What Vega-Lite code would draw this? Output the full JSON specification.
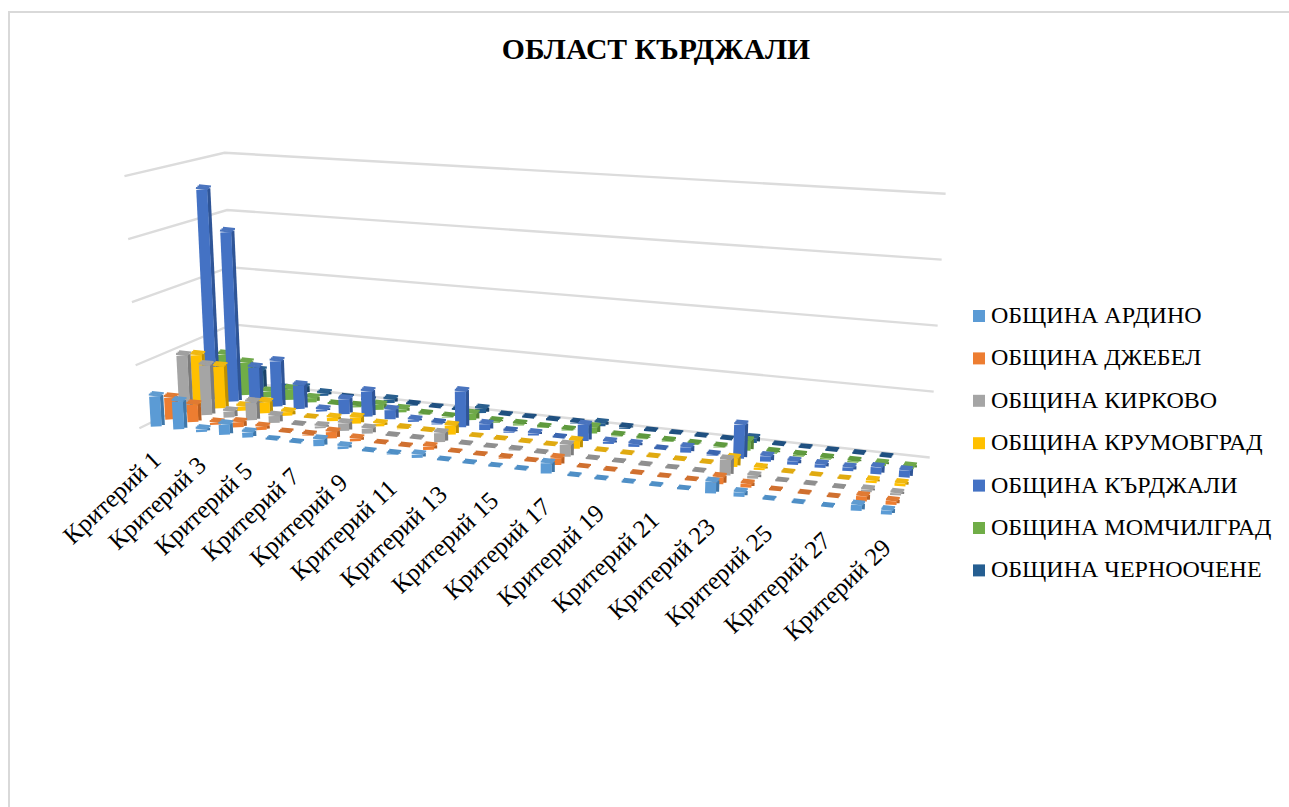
{"$schema":"https://vega.github.io/schema/vega-lite/v6.json","width":1289,"height":807,"autosize":"none","padding":{"left":9,"top":12,"right":-9,"bottom":-12},"background":"white","view":{"stroke":"#D9D9D9","strokeWidth":2,"fill":"white"},"title":{"text":"ОБЛАСТ КЪРДЖАЛИ","font":"Liberation Serif","fontSize":29.7,"fontWeight":"bold","color":"#000000","anchor":"middle","frame":"group","dx":2.5,"offset":-48,"dy":29,"baseline":"alphabetic"},"datasets":{"grid":[{"level":0,"crit":0.5,"pos":0.5,"value":0},{"level":0,"crit":0.5,"pos":7.5,"value":0},{"level":0,"crit":29.5,"pos":7.5,"value":0},{"level":1,"crit":0.5,"pos":0.5,"value":10},{"level":1,"crit":0.5,"pos":7.5,"value":10},{"level":1,"crit":29.5,"pos":7.5,"value":10},{"level":2,"crit":0.5,"pos":0.5,"value":20},{"level":2,"crit":0.5,"pos":7.5,"value":20},{"level":2,"crit":29.5,"pos":7.5,"value":20},{"level":3,"crit":0.5,"pos":0.5,"value":30},{"level":3,"crit":0.5,"pos":7.5,"value":30},{"level":3,"crit":29.5,"pos":7.5,"value":30},{"level":4,"crit":0.5,"pos":0.5,"value":40},{"level":4,"crit":0.5,"pos":7.5,"value":40},{"level":4,"crit":29.5,"pos":7.5,"value":40}],"labels":[{"crit":1,"label":"Критерий 1"},{"crit":3,"label":"Критерий 3"},{"crit":5,"label":"Критерий 5"},{"crit":7,"label":"Критерий 7"},{"crit":9,"label":"Критерий 9"},{"crit":11,"label":"Критерий 11"},{"crit":13,"label":"Критерий 13"},{"crit":15,"label":"Критерий 15"},{"crit":17,"label":"Критерий 17"},{"crit":19,"label":"Критерий 19"},{"crit":21,"label":"Критерий 21"},{"crit":23,"label":"Критерий 23"},{"crit":25,"label":"Критерий 25"},{"crit":27,"label":"Критерий 27"},{"crit":29,"label":"Критерий 29"}],"bars":[
{"crit":1,"series":"ОБЩИНА ЧЕРНООЧЕНЕ","value":3},{"crit":2,"series":"ОБЩИНА ЧЕРНООЧЕНЕ","value":3.1},{"crit":3,"series":"ОБЩИНА ЧЕРНООЧЕНЕ","value":0.5},{"crit":4,"series":"ОБЩИНА ЧЕРНООЧЕНЕ","value":1},{"crit":5,"series":"ОБЩИНА ЧЕРНООЧЕНЕ","value":0.4},{"crit":6,"series":"ОБЩИНА ЧЕРНООЧЕНЕ","value":0},{"crit":7,"series":"ОБЩИНА ЧЕРНООЧЕНЕ","value":0},{"crit":8,"series":"ОБЩИНА ЧЕРНООЧЕНЕ","value":0.6},{"crit":9,"series":"ОБЩИНА ЧЕРНООЧЕНЕ","value":0.1},{"crit":10,"series":"ОБЩИНА ЧЕРНООЧЕНЕ","value":0},{"crit":11,"series":"ОБЩИНА ЧЕРНООЧЕНЕ","value":0},{"crit":12,"series":"ОБЩИНА ЧЕРНООЧЕНЕ","value":0.7},{"crit":13,"series":"ОБЩИНА ЧЕРНООЧЕНЕ","value":0},{"crit":14,"series":"ОБЩИНА ЧЕРНООЧЕНЕ","value":0},{"crit":15,"series":"ОБЩИНА ЧЕРНООЧЕНЕ","value":0},{"crit":16,"series":"ОБЩИНА ЧЕРНООЧЕНЕ","value":0.1},{"crit":17,"series":"ОБЩИНА ЧЕРНООЧЕНЕ","value":0.5},{"crit":18,"series":"ОБЩИНА ЧЕРНООЧЕНЕ","value":0.2},{"crit":19,"series":"ОБЩИНА ЧЕРНООЧЕНЕ","value":0},{"crit":20,"series":"ОБЩИНА ЧЕРНООЧЕНЕ","value":0},{"crit":21,"series":"ОБЩИНА ЧЕРНООЧЕНЕ","value":0},{"crit":22,"series":"ОБЩИНА ЧЕРНООЧЕНЕ","value":0},{"crit":23,"series":"ОБЩИНА ЧЕРНООЧЕНЕ","value":0.7},{"crit":24,"series":"ОБЩИНА ЧЕРНООЧЕНЕ","value":0},{"crit":25,"series":"ОБЩИНА ЧЕРНООЧЕНЕ","value":0},{"crit":26,"series":"ОБЩИНА ЧЕРНООЧЕНЕ","value":0},{"crit":27,"series":"ОБЩИНА ЧЕРНООЧЕНЕ","value":0},{"crit":28,"series":"ОБЩИНА ЧЕРНООЧЕНЕ","value":0},
{"crit":1,"series":"ОБЩИНА МОМЧИЛГРАД","value":6.5},{"crit":2,"series":"ОБЩИНА МОМЧИЛГРАД","value":5.5},{"crit":3,"series":"ОБЩИНА МОМЧИЛГРАД","value":1},{"crit":4,"series":"ОБЩИНА МОМЧИЛГРАД","value":1.8},{"crit":5,"series":"ОБЩИНА МОМЧИЛГРАД","value":0.7},{"crit":6,"series":"ОБЩИНА МОМЧИЛГРАД","value":0},{"crit":7,"series":"ОБЩИНА МОМЧИЛГРАД","value":0.2},{"crit":8,"series":"ОБЩИНА МОМЧИЛГРАД","value":0.8},{"crit":9,"series":"ОБЩИНА МОМЧИЛГРАД","value":0.5},{"crit":10,"series":"ОБЩИНА МОМЧИЛГРАД","value":0.1},{"crit":11,"series":"ОБЩИНА МОМЧИЛГРАД","value":0.1},{"crit":12,"series":"ОБЩИНА МОМЧИЛГРАД","value":1},{"crit":13,"series":"ОБЩИНА МОМЧИЛГРАД","value":0.2},{"crit":14,"series":"ОБЩИНА МОМЧИЛГРАД","value":0.2},{"crit":15,"series":"ОБЩИНА МОМЧИЛГРАД","value":0.1},{"crit":16,"series":"ОБЩИНА МОМЧИЛГРАД","value":0.1},{"crit":17,"series":"ОБЩИНА МОМЧИЛГРАД","value":1},{"crit":18,"series":"ОБЩИНА МОМЧИЛГРАД","value":0.1},{"crit":19,"series":"ОБЩИНА МОМЧИЛГРАД","value":0.1},{"crit":20,"series":"ОБЩИНА МОМЧИЛГРАД","value":0.1},{"crit":21,"series":"ОБЩИНА МОМЧИЛГРАД","value":0.1},{"crit":22,"series":"ОБЩИНА МОМЧИЛГРАД","value":0.1},{"crit":23,"series":"ОБЩИНА МОМЧИЛГРАД","value":1.5},{"crit":24,"series":"ОБЩИНА МОМЧИЛГРАД","value":0.2},{"crit":25,"series":"ОБЩИНА МОМЧИЛГРАД","value":0.2},{"crit":26,"series":"ОБЩИНА МОМЧИЛГРАД","value":0.2},{"crit":27,"series":"ОБЩИНА МОМЧИЛГРАД","value":0.2},{"crit":28,"series":"ОБЩИНА МОМЧИЛГРАД","value":0.3},{"crit":29,"series":"ОБЩИНА МОМЧИЛГРАД","value":0.3},
{"crit":1,"series":"ОБЩИНА КЪРДЖАЛИ","value":35.3},{"crit":2,"series":"ОБЩИНА КЪРДЖАЛИ","value":28.4},{"crit":3,"series":"ОБЩИНА КЪРДЖАЛИ","value":6.1},{"crit":4,"series":"ОБЩИНА КЪРДЖАЛИ","value":7.5},{"crit":5,"series":"ОБЩИНА КЪРДЖАЛИ","value":3.9},{"crit":6,"series":"ОБЩИНА КЪРДЖАЛИ","value":0.3},{"crit":7,"series":"ОБЩИНА КЪРДЖАЛИ","value":2.4},{"crit":8,"series":"ОБЩИНА КЪРДЖАЛИ","value":4.1},{"crit":9,"series":"ОБЩИНА КЪРДЖАЛИ","value":1.5},{"crit":10,"series":"ОБЩИНА КЪРДЖАЛИ","value":0.3},{"crit":11,"series":"ОБЩИНА КЪРДЖАЛИ","value":0.2},{"crit":12,"series":"ОБЩИНА КЪРДЖАЛИ","value":5.7},{"crit":13,"series":"ОБЩИНА КЪРДЖАЛИ","value":0.9},{"crit":14,"series":"ОБЩИНА КЪРДЖАЛИ","value":0.2},{"crit":15,"series":"ОБЩИНА КЪРДЖАЛИ","value":0.3},{"crit":16,"series":"ОБЩИНА КЪРДЖАЛИ","value":0},{"crit":17,"series":"ОБЩИНА КЪРДЖАЛИ","value":2.5},{"crit":18,"series":"ОБЩИНА КЪРДЖАЛИ","value":0.3},{"crit":19,"series":"ОБЩИНА КЪРДЖАЛИ","value":0.4},{"crit":20,"series":"ОБЩИНА КЪРДЖАЛИ","value":0},{"crit":21,"series":"ОБЩИНА КЪРДЖАЛИ","value":0.8},{"crit":22,"series":"ОБЩИНА КЪРДЖАЛИ","value":0.1},{"crit":23,"series":"ОБЩИНА КЪРДЖАЛИ","value":5.1},{"crit":24,"series":"ОБЩИНА КЪРДЖАЛИ","value":0.8},{"crit":25,"series":"ОБЩИНА КЪРДЖАЛИ","value":0.5},{"crit":26,"series":"ОБЩИНА КЪРДЖАЛИ","value":0.5},{"crit":27,"series":"ОБЩИНА КЪРДЖАЛИ","value":0.5},{"crit":28,"series":"ОБЩИНА КЪРДЖАЛИ","value":1},{"crit":29,"series":"ОБЩИНА КЪРДЖАЛИ","value":1},
{"crit":1,"series":"ОБЩИНА КРУМОВГРАД","value":8.4},{"crit":2,"series":"ОБЩИНА КРУМОВГРАД","value":6.9},{"crit":3,"series":"ОБЩИНА КРУМОВГРАД","value":0.7},{"crit":4,"series":"ОБЩИНА КРУМОВГРАД","value":1.8},{"crit":5,"series":"ОБЩИНА КРУМОВГРАД","value":0.6},{"crit":6,"series":"ОБЩИНА КРУМОВГРАД","value":0},{"crit":7,"series":"ОБЩИНА КРУМОВГРАД","value":0.5},{"crit":8,"series":"ОБЩИНА КРУМОВГРАД","value":1},{"crit":9,"series":"ОБЩИНА КРУМОВГРАД","value":0.4},{"crit":10,"series":"ОБЩИНА КРУМОВГРАД","value":0.1},{"crit":11,"series":"ОБЩИНА КРУМОВГРАД","value":0},{"crit":12,"series":"ОБЩИНА КРУМОВГРАД","value":1.4},{"crit":13,"series":"ОБЩИНА КРУМОВГРАД","value":0},{"crit":14,"series":"ОБЩИНА КРУМОВГРАД","value":0},{"crit":15,"series":"ОБЩИНА КРУМОВГРАД","value":0},{"crit":16,"series":"ОБЩИНА КРУМОВГРАД","value":0},{"crit":17,"series":"ОБЩИНА КРУМОВГРАД","value":1.2},{"crit":18,"series":"ОБЩИНА КРУМОВГРАД","value":0},{"crit":19,"series":"ОБЩИНА КРУМОВГРАД","value":0},{"crit":20,"series":"ОБЩИНА КРУМОВГРАД","value":0},{"crit":21,"series":"ОБЩИНА КРУМОВГРАД","value":0},{"crit":22,"series":"ОБЩИНА КРУМОВГРАД","value":0},{"crit":23,"series":"ОБЩИНА КРУМОВГРАД","value":1.3},{"crit":24,"series":"ОБЩИНА КРУМОВГРАД","value":0.3},{"crit":25,"series":"ОБЩИНА КРУМОВГРАД","value":0},{"crit":26,"series":"ОБЩИНА КРУМОВГРАД","value":0},{"crit":27,"series":"ОБЩИНА КРУМОВГРАД","value":0},{"crit":28,"series":"ОБЩИНА КРУМОВГРАД","value":0.3},{"crit":29,"series":"ОБЩИНА КРУМОВГРАД","value":0.4},
{"crit":1,"series":"ОБЩИНА КИРКОВО","value":9.3},{"crit":2,"series":"ОБЩИНА КИРКОВО","value":8.1},{"crit":3,"series":"ОБЩИНА КИРКОВО","value":1},{"crit":4,"series":"ОБЩИНА КИРКОВО","value":2.9},{"crit":5,"series":"ОБЩИНА КИРКОВО","value":1.1},{"crit":6,"series":"ОБЩИНА КИРКОВО","value":0},{"crit":7,"series":"ОБЩИНА КИРКОВО","value":0.3},{"crit":8,"series":"ОБЩИНА КИРКОВО","value":1.2},{"crit":9,"series":"ОБЩИНА КИРКОВО","value":0.8},{"crit":10,"series":"ОБЩИНА КИРКОВО","value":0},{"crit":11,"series":"ОБЩИНА КИРКОВО","value":0},{"crit":12,"series":"ОБЩИНА КИРКОВО","value":1.4},{"crit":13,"series":"ОБЩИНА КИРКОВО","value":0},{"crit":14,"series":"ОБЩИНА КИРКОВО","value":0},{"crit":15,"series":"ОБЩИНА КИРКОВО","value":0.1},{"crit":16,"series":"ОБЩИНА КИРКОВО","value":0},{"crit":17,"series":"ОБЩИНА КИРКОВО","value":1.8},{"crit":18,"series":"ОБЩИНА КИРКОВО","value":0},{"crit":19,"series":"ОБЩИНА КИРКОВО","value":0},{"crit":20,"series":"ОБЩИНА КИРКОВО","value":0},{"crit":21,"series":"ОБЩИНА КИРКОВО","value":0},{"crit":22,"series":"ОБЩИНА КИРКОВО","value":0},{"crit":23,"series":"ОБЩИНА КИРКОВО","value":2.3},{"crit":24,"series":"ОБЩИНА КИРКОВО","value":0.4},{"crit":25,"series":"ОБЩИНА КИРКОВО","value":0},{"crit":26,"series":"ОБЩИНА КИРКОВО","value":0},{"crit":27,"series":"ОБЩИНА КИРКОВО","value":0},{"crit":28,"series":"ОБЩИНА КИРКОВО","value":0.3},{"crit":29,"series":"ОБЩИНА КИРКОВО","value":0.3},
{"crit":1,"series":"ОБЩИНА ДЖЕБЕЛ","value":3.5},{"crit":2,"series":"ОБЩИНА ДЖЕБЕЛ","value":2.8},{"crit":3,"series":"ОБЩИНА ДЖЕБЕЛ","value":0.3},{"crit":4,"series":"ОБЩИНА ДЖЕБЕЛ","value":0.8},{"crit":5,"series":"ОБЩИНА ДЖЕБЕЛ","value":0.5},{"crit":6,"series":"ОБЩИНА ДЖЕБЕЛ","value":0},{"crit":7,"series":"ОБЩИНА ДЖЕБЕЛ","value":0.1},{"crit":8,"series":"ОБЩИНА ДЖЕБЕЛ","value":1},{"crit":9,"series":"ОБЩИНА ДЖЕБЕЛ","value":0.4},{"crit":10,"series":"ОБЩИНА ДЖЕБЕЛ","value":0},{"crit":11,"series":"ОБЩИНА ДЖЕБЕЛ","value":0},{"crit":12,"series":"ОБЩИНА ДЖЕБЕЛ","value":0.5},{"crit":13,"series":"ОБЩИНА ДЖЕБЕЛ","value":0},{"crit":14,"series":"ОБЩИНА ДЖЕБЕЛ","value":0},{"crit":15,"series":"ОБЩИНА ДЖЕБЕЛ","value":0.1},{"crit":16,"series":"ОБЩИНА ДЖЕБЕЛ","value":0},{"crit":17,"series":"ОБЩИНА ДЖЕБЕЛ","value":1},{"crit":18,"series":"ОБЩИНА ДЖЕБЕЛ","value":0},{"crit":19,"series":"ОБЩИНА ДЖЕБЕЛ","value":0},{"crit":20,"series":"ОБЩИНА ДЖЕБЕЛ","value":0},{"crit":21,"series":"ОБЩИНА ДЖЕБЕЛ","value":0},{"crit":22,"series":"ОБЩИНА ДЖЕБЕЛ","value":0},{"crit":23,"series":"ОБЩИНА ДЖЕБЕЛ","value":1},{"crit":24,"series":"ОБЩИНА ДЖЕБЕЛ","value":0.5},{"crit":25,"series":"ОБЩИНА ДЖЕБЕЛ","value":0},{"crit":26,"series":"ОБЩИНА ДЖЕБЕЛ","value":0},{"crit":27,"series":"ОБЩИНА ДЖЕБЕЛ","value":0},{"crit":28,"series":"ОБЩИНА ДЖЕБЕЛ","value":0.7},{"crit":29,"series":"ОБЩИНА ДЖЕБЕЛ","value":0.5},
{"crit":1,"series":"ОБЩИНА АРДИНО","value":4.8},{"crit":2,"series":"ОБЩИНА АРДИНО","value":4.4},{"crit":3,"series":"ОБЩИНА АРДИНО","value":0.4},{"crit":4,"series":"ОБЩИНА АРДИНО","value":1.6},{"crit":5,"series":"ОБЩИНА АРДИНО","value":0.8},{"crit":6,"series":"ОБЩИНА АРДИНО","value":0},{"crit":7,"series":"ОБЩИНА АРДИНО","value":0},{"crit":8,"series":"ОБЩИНА АРДИНО","value":1},{"crit":9,"series":"ОБЩИНА АРДИНО","value":0.4},{"crit":10,"series":"ОБЩИНА АРДИНО","value":0},{"crit":11,"series":"ОБЩИНА АРДИНО","value":0.1},{"crit":12,"series":"ОБЩИНА АРДИНО","value":0.5},{"crit":13,"series":"ОБЩИНА АРДИНО","value":0},{"crit":14,"series":"ОБЩИНА АРДИНО","value":0},{"crit":15,"series":"ОБЩИНА АРДИНО","value":0},{"crit":16,"series":"ОБЩИНА АРДИНО","value":0},{"crit":17,"series":"ОБЩИНА АРДИНО","value":1.5},{"crit":18,"series":"ОБЩИНА АРДИНО","value":0},{"crit":19,"series":"ОБЩИНА АРДИНО","value":0},{"crit":20,"series":"ОБЩИНА АРДИНО","value":0},{"crit":21,"series":"ОБЩИНА АРДИНО","value":0},{"crit":22,"series":"ОБЩИНА АРДИНО","value":0},{"crit":23,"series":"ОБЩИНА АРДИНО","value":1.6},{"crit":24,"series":"ОБЩИНА АРДИНО","value":0.6},{"crit":25,"series":"ОБЩИНА АРДИНО","value":0},{"crit":26,"series":"ОБЩИНА АРДИНО","value":0},{"crit":27,"series":"ОБЩИНА АРДИНО","value":0},{"crit":28,"series":"ОБЩИНА АРДИНО","value":0.8},{"crit":29,"series":"ОБЩИНА АРДИНО","value":0.55}
]},"layer":[{"data":{"name":"grid"},"transform":[{"calculate":"(datum.crit-1)/28","as":"a"},{"calculate":"(datum.pos-1)/6","as":"b"},{"calculate":"1-0.1402*datum.a+0.08688*datum.b","as":"d"},{"calculate":"(605.5*datum.a+101.76*datum.b+158)/datum.d","as":"fx"},{"calculate":"(16.2*datum.a-6.64*datum.b+426)/datum.d","as":"fy"},{"calculate":"6.275*datum.value/datum.d","as":"h"},{"calculate":"datum.fx+datum.h*(datum.fx-531)*0.000151","as":"px"},{"calculate":"datum.fy-datum.h","as":"py"}],"mark":{"type":"line","color":"#DCDCDC","strokeWidth":2.4},"encoding":{"x":{"field":"px","type":"quantitative","axis":null,"scale":{"domain":[9,1298],"range":[0,1289],"nice":false,"zero":false}},"y":{"field":"py","type":"quantitative","axis":null,"scale":{"domain":[12,819],"range":[0,807],"nice":false,"zero":false}},"detail":{"field":"level"},"order":{"field":"crit"}}},{"data":{"name":"bars"},"transform":[{"calculate":"indexof(['ОБЩИНА АРДИНО','ОБЩИНА ДЖЕБЕЛ','ОБЩИНА КИРКОВО','ОБЩИНА КРУМОВГРАД','ОБЩИНА КЪРДЖАЛИ','ОБЩИНА МОМЧИЛГРАД','ОБЩИНА ЧЕРНООЧЕНЕ'],datum.series)","as":"idx"},{"calculate":"(datum.crit-1)/28","as":"a"},{"calculate":"datum.idx/6","as":"b"},{"calculate":"1-0.1402*datum.a+0.08688*datum.b","as":"d"},{"calculate":"(605.5*datum.a+101.76*datum.b+158)/datum.d","as":"fx"},{"calculate":"(16.2*datum.a-6.64*datum.b+424)/datum.d","as":"fy"},{"calculate":"6.275*datum.value/datum.d","as":"h"},{"calculate":"datum.fx+datum.h*(datum.fx-531)*0.000151","as":"tx"},{"calculate":"datum.fy-datum.h","as":"ty"},{"calculate":"1.5-0.6*datum.a","as":"sk"},{"calculate":"['side','front','t1','t2','t3']","as":"face"},{"flatten":["face"]},{"calculate":"datum.face=='t1'?-datum.sk:datum.face=='t3'?datum.sk:0","as":"ts"},{"calculate":"datum.face=='t1'?1.3:datum.face=='t3'?-1.3:0","as":"to"},{"calculate":"datum.face=='front'?datum.fx-1.7:datum.face=='side'?datum.fx+5.2:datum.tx+datum.ts-6","as":"px1"},{"calculate":"datum.face=='front'?datum.tx-1.7:datum.face=='side'?datum.tx+5.2:datum.tx+datum.ts+6","as":"px2"},{"calculate":"datum.face=='front'?datum.fy+2.5:datum.face=='side'?datum.fy+1:datum.ty+datum.to-0.6","as":"py1"},{"calculate":"datum.face=='front'?datum.ty+2.5:datum.face=='side'?datum.ty+1:datum.ty+datum.to+0.6","as":"py2"},{"calculate":"datum.face=='front'?11:datum.face=='side'?3.4:2.1","as":"w"},{"calculate":"datum.face=='front'?datum.series:datum.face=='side'?datum.series+' side':datum.value<0.25?datum.series+' flat':datum.series+' top'","as":"key"}],"mark":{"type":"rule"},"encoding":{"x":{"field":"px1","type":"quantitative","axis":null},"x2":{"field":"px2"},"y":{"field":"py1","type":"quantitative","axis":null},"y2":{"field":"py2"},"size":{"field":"w","type":"quantitative","scale":null,"legend":null},"color":{"field":"key","type":"nominal","scale":{"domain":["ОБЩИНА АРДИНО","ОБЩИНА ДЖЕБЕЛ","ОБЩИНА КИРКОВО","ОБЩИНА КРУМОВГРАД","ОБЩИНА КЪРДЖАЛИ","ОБЩИНА МОМЧИЛГРАД","ОБЩИНА ЧЕРНООЧЕНЕ","ОБЩИНА АРДИНО side","ОБЩИНА ДЖЕБЕЛ side","ОБЩИНА КИРКОВО side","ОБЩИНА КРУМОВГРАД side","ОБЩИНА КЪРДЖАЛИ side","ОБЩИНА МОМЧИЛГРАД side","ОБЩИНА ЧЕРНООЧЕНЕ side","ОБЩИНА АРДИНО top","ОБЩИНА ДЖЕБЕЛ top","ОБЩИНА КИРКОВО top","ОБЩИНА КРУМОВГРАД top","ОБЩИНА КЪРДЖАЛИ top","ОБЩИНА МОМЧИЛГРАД top","ОБЩИНА ЧЕРНООЧЕНЕ top","ОБЩИНА АРДИНО flat","ОБЩИНА ДЖЕБЕЛ flat","ОБЩИНА КИРКОВО flat","ОБЩИНА КРУМОВГРАД flat","ОБЩИНА КЪРДЖАЛИ flat","ОБЩИНА МОМЧИЛГРАД flat","ОБЩИНА ЧЕРНООЧЕНЕ flat"],"range":["#5B9BD5","#ED7D31","#A5A5A5","#FFC000","#4472C4","#70AD47","#255E91","#3F77A9","#B85F22","#7C7C7C","#BF9000","#2F5597","#548235","#1A4368","#5F9BD0","#E07A33","#A0A0A0","#F0B810","#4A74BE","#6FA84A","#2A5F8E","#4F8FC6","#D0702F","#8F8F8F","#E0AA10","#3B66B0","#5F9A3E","#1F5080"]},"legend":{"title":null,"orient":"none","legendX":958,"legendY":292,"values":["ОБЩИНА АРДИНО","ОБЩИНА ДЖЕБЕЛ","ОБЩИНА КИРКОВО","ОБЩИНА КРУМОВГРАД","ОБЩИНА КЪРДЖАЛИ","ОБЩИНА МОМЧИЛГРАД","ОБЩИНА ЧЕРНООЧЕНЕ"],"symbolType":"square","symbolSize":36,"symbolStrokeWidth":6,"labelFont":"Liberation Serif","labelFontSize":24,"labelColor":"#000000","labelOffset":0,"rowPadding":12.4,"padding":0,"labelLimit":320}}}},{"data":{"name":"labels"},"transform":[{"calculate":"(datum.crit-1)/28","as":"a"},{"calculate":"1-0.1402*datum.a","as":"d"},{"calculate":"(605.5*datum.a+158)/datum.d-1","as":"px"},{"calculate":"(16.2*datum.a+424)/datum.d+32","as":"py"}],"mark":{"type":"text","font":"Liberation Serif","fontSize":25,"angle":317,"align":"right","baseline":"middle","color":"#000000"},"encoding":{"x":{"field":"px","type":"quantitative","axis":null},"y":{"field":"py","type":"quantitative","axis":null},"text":{"field":"label"}}}]}
